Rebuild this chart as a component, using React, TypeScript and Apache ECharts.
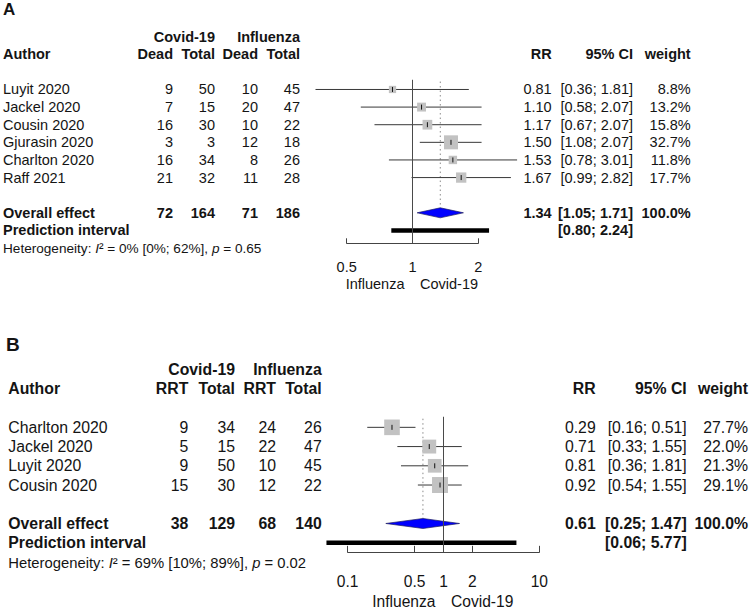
import React, { useEffect, useRef } from "react";
import * as echarts from "echarts";

// ---------- Panel A data ----------
const authorsA = ["Luyit 2020", "Jackel 2020", "Cousin 2020", "Gjurasin 2020", "Charlton 2020", "Raff 2021"];
const deadCovidA = [9, 7, 16, 3, 16, 21];
const totalCovidA = [50, 15, 30, 3, 34, 32];
const deadFluA = [10, 20, 10, 12, 8, 11];
const totalFluA = [45, 47, 22, 18, 26, 28];
const rrA = [0.81, 1.1, 1.17, 1.5, 1.53, 1.67];
const loA = [0.36, 0.58, 0.67, 1.08, 0.78, 0.99];
const hiA = [1.81, 2.07, 2.07, 2.07, 3.01, 2.82];
const weightA = [8.8, 13.2, 15.8, 32.7, 11.8, 17.7];
const sumsA = [72, 164, 71, 186];
const overallA = [1.34, 1.05, 1.71];
const predA = [0.8, 2.24];
const hetA = ["0%", "[0%; 62%]", "0.65"];
const ticksA = [0.5, 1, 2];
const headA = ["Dead", "Total", "Dead", "Total"];

// ---------- Panel B data ----------
const authorsB = ["Charlton 2020", "Jackel 2020", "Luyit 2020", "Cousin 2020"];
const rrtCovidB = [9, 5, 9, 15];
const totalCovidB = [34, 15, 50, 30];
const rrtFluB = [24, 22, 10, 12];
const totalFluB = [26, 47, 45, 22];
const rrB = [0.29, 0.71, 0.81, 0.92];
const loB = [0.16, 0.33, 0.36, 0.54];
const hiB = [0.51, 1.55, 1.81, 1.55];
const weightB = [27.7, 22.0, 21.3, 29.1];
const sumsB = [38, 129, 68, 140];
const overallB = [0.61, 0.25, 1.47];
const predB = [0.06, 5.77];
const hetB = ["69%", "[10%; 89%]", "0.02"];
const ticksB = [0.1, 0.5, 1, 2, 10];
const headB = ["RRT", "Total", "RRT", "Total"];

const groupHeads = ["Covid-19", "Influenza"];
const rightHeads = ["RR", "95% CI", "weight"];
const sideNames = ["Influenza", "Covid-19"];

const FONT = "'Liberation Sans', Arial, Helvetica, sans-serif";
const TXT = "#141414";

const f2 = (v: number) => v.toFixed(2);
const ci = (lo: number, hi: number) => `[${f2(lo)}; ${f2(hi)}]`;

function txt(x: number, y: number, text: string, o: any = {}) {
  return {
    type: "text",
    x,
    y,
    silent: true,
    style: {
      text,
      fill: TXT,
      fontFamily: FONT,
      fontSize: o.size,
      fontWeight: o.bold ? "bold" : "normal",
      align: o.align || "left",
      verticalAlign: "middle",
    },
  };
}

function buildPanel(L: any, D: any) {
  const n = D.authors.length;
  const rowY = (i: number) => L.top + (i - L.yMin) * L.spacing;
  const height = (L.yMax - L.yMin) * L.spacing;
  const g: any[] = [];
  const fs = L.fs;

  g.push(txt(L.letterX, L.letterY, L.letter, { size: L.letterSize, bold: true }));
  g.push(txt(L.cols[1], rowY(-3), groupHeads[0], { size: fs, bold: true, align: "right" }));
  g.push(txt(L.cols[3], rowY(-3), groupHeads[1], { size: fs, bold: true, align: "right" }));
  g.push(txt(L.authorX, rowY(-2), "Author", { size: fs, bold: true }));
  D.heads.forEach((h: string, k: number) =>
    g.push(txt(L.cols[k], rowY(-2), h, { size: fs, bold: true, align: "right" }))
  );
  rightHeads.forEach((h, k) => g.push(txt(L.rcols[k], rowY(-2), h, { size: fs, bold: true, align: "right" })));

  D.authors.forEach((a: string, i: number) => {
    const y = rowY(i);
    g.push(txt(L.authorX, y, a, { size: fs }));
    [D.c1[i], D.c2[i], D.c3[i], D.c4[i]].forEach((v: number, k: number) =>
      g.push(txt(L.cols[k], y, String(v), { size: fs, align: "right" }))
    );
    g.push(txt(L.rcols[0], y, f2(D.rr[i]), { size: fs, align: "right" }));
    g.push(txt(L.rcols[1], y, ci(D.lo[i], D.hi[i]), { size: fs, align: "right" }));
    g.push(txt(L.rcols[2], y, D.w[i].toFixed(1) + "%", { size: fs, align: "right" }));
  });

  const yo = rowY(n + 1);
  g.push(txt(L.authorX, yo, "Overall effect", { size: fs, bold: true }));
  D.sums.forEach((v: number, k: number) => g.push(txt(L.cols[k], yo, String(v), { size: fs, bold: true, align: "right" })));
  g.push(txt(L.rcols[0], yo, f2(D.overall[0]), { size: fs, bold: true, align: "right" }));
  g.push(txt(L.rcols[1], yo, ci(D.overall[1], D.overall[2]), { size: fs, bold: true, align: "right" }));
  g.push(txt(L.rcols[2], yo, "100.0%", { size: fs, bold: true, align: "right" }));
  const yp = rowY(n + 2);
  g.push(txt(L.authorX, yp, "Prediction interval", { size: fs, bold: true }));
  g.push(txt(L.rcols[1], yp, ci(D.pred[0], D.pred[1]), { size: fs, bold: true, align: "right" }));

  const hfs = L.hetFs;
  g.push({
    type: "text",
    x: L.authorX,
    y: rowY(L.hetRow),
    silent: true,
    style: {
      text: `{n|Heterogeneity: }{i|I}{n|² = ${D.het[0]} ${D.het[1]}, }{i|p}{n| = ${D.het[2]}}`,
      fill: TXT,
      fontFamily: FONT,
      fontSize: hfs,
      align: "left",
      verticalAlign: "middle",
      rich: {
        n: { fontSize: hfs, fontFamily: FONT, fill: TXT },
        i: { fontSize: hfs, fontFamily: FONT, fill: TXT, fontStyle: "italic" },
      },
    },
  });

  const x1 = L.left + L.width / 2;
  g.push(txt(x1 - 8, L.nameY, sideNames[0], { size: L.axisFs, align: "right" }));
  g.push(txt(x1 + 7.5, L.nameY, sideNames[1], { size: L.axisFs, align: "left" }));

  const idx = L.idx;
  const grid = {
    left: L.left,
    top: L.top,
    width: L.width,
    height,
    containLabel: false,
    outerBoundsMode: "none",
  };
  const xAxis = {
    gridIndex: idx,
    type: "log",
    logBase: L.logBase,
    min: L.min,
    max: L.max,
    axisLine: { show: true, onZero: false, lineStyle: { color: "#444", width: 1 } },
    axisTick: { show: true, inside: true, length: L.tickLen, lineStyle: { color: "#444", width: 1 }, customValues: D.ticks },
    axisLabel: {
      show: true,
      margin: L.labelMargin,
      fontSize: L.axisFs,
      fontFamily: FONT,
      color: TXT,
      customValues: D.ticks,
      formatter: (v: number) => String(Number(Number(v).toPrecision(6))),
    },
    minorTick: { show: false },
    splitLine: { show: false },
  };
  const yAxis = { gridIndex: idx, type: "value", inverse: true, min: L.yMin, max: L.yMax, show: false };

  const wMax = Math.max(...D.w);
  const studyData = D.rr.map((r: number, i: number) => [r, i, D.lo[i], D.hi[i], D.w[i]]);
  const base = { type: "custom", coordinateSystem: "cartesian2d", xAxisIndex: idx, yAxisIndex: idx, silent: true, clip: false };

  const series: any[] = [
    {
      ...base,
      z: 3,
      data: [[D.overall[0], -0.45, L.dotBottom]],
      renderItem: (_p: any, api: any) => {
        const a = api.coord([api.value(0), api.value(1)]);
        const b = api.coord([api.value(0), api.value(2)]);
        return {
          type: "line",
          shape: { x1: a[0], y1: a[1], x2: b[0], y2: b[1] },
          style: { stroke: "#8a8a8a", lineWidth: 1, lineDash: [1.5, 3] },
        };
      },
    },
    {
      ...base,
      z: 4,
      data: studyData,
      renderItem: (_p: any, api: any) => {
        const p = api.coord([api.value(0), api.value(1)]);
        const lo = api.coord([api.value(2), api.value(1)]);
        const hi = api.coord([api.value(3), api.value(1)]);
        const side = L.sq * Math.sqrt(api.value(4) / wMax);
        return {
          type: "group",
          children: [
            { type: "line", shape: { x1: lo[0], y1: p[1], x2: hi[0], y2: p[1] }, style: { stroke: "#383838", lineWidth: 1 } },
            { type: "rect", shape: { x: p[0] - side / 2, y: p[1] - side / 2, width: side, height: side }, style: { fill: "#c2c2c2" } },
            { type: "line", shape: { x1: p[0], y1: p[1] - 2.5, x2: p[0], y2: p[1] + 2.5 }, style: { stroke: "#111", lineWidth: 1 } },
          ],
        };
      },
    },
    {
      ...base,
      z: 4,
      data: [[D.overall[0], n + 1, D.overall[1], D.overall[2]]],
      renderItem: (_p: any, api: any) => {
        const p = api.coord([api.value(0), api.value(1)]);
        const lo = api.coord([api.value(2), api.value(1)]);
        const hi = api.coord([api.value(3), api.value(1)]);
        return {
          type: "polygon",
          shape: { points: [[lo[0], p[1]], [p[0], p[1] - 5], [hi[0], p[1]], [p[0], p[1] + 5]] },
          style: { fill: "#0000ff", stroke: "#202060", lineWidth: 0.7 },
        };
      },
    },
    {
      ...base,
      z: 4,
      data: [[D.pred[0], n + 2, D.pred[1]]],
      renderItem: (_p: any, api: any) => {
        const a = api.coord([api.value(0), api.value(1)]);
        const b = api.coord([api.value(2), api.value(1)]);
        return { type: "line", shape: { x1: a[0], y1: a[1], x2: b[0], y2: b[1] }, style: { stroke: "#000", lineWidth: 4.5 } };
      },
    },
    {
      ...base,
      z: 5,
      data: [[1, -0.55, L.yMax]],
      renderItem: (_p: any, api: any) => {
        const a = api.coord([api.value(0), api.value(1)]);
        const b = api.coord([api.value(0), api.value(2)]);
        return { type: "line", shape: { x1: a[0], y1: a[1], x2: b[0], y2: b[1] }, style: { stroke: "#4a4a4a", lineWidth: 1 } };
      },
    },
  ];
  return { grid, xAxis, yAxis, series, graphic: g };
}

const layoutA = {
  idx: 0, letter: "A", letterX: 3, letterY: 9, letterSize: 17, fs: 14.5, hetFs: 13.6, axisFs: 14.5,
  left: 346.7, width: 131.6, top: 78.9, yMin: -0.6, yMax: 8.73, spacing: 17.62,
  logBase: 2, min: 0.5, max: 2, authorX: 3, cols: [173, 215, 258, 300], rcols: [551.7, 633, 690.7],
  sq: 14, tickLen: 5, labelMargin: 16, nameY: 284, hetRow: 9, dotBottom: 6.67,
};
const layoutB = {
  idx: 1, letter: "B", letterX: 6, letterY: 344, letterSize: 19, fs: 15.8, hetFs: 14.8, axisFs: 15.6,
  left: 347.7, width: 191.6, top: 415.8, yMin: -0.6, yMax: 6.5, spacing: 19.23,
  logBase: 10, min: 0.1, max: 10, authorX: 8.3, cols: [188.3, 235, 276, 321.7], rcols: [595.7, 686.7, 748],
  sq: 16, tickLen: 6.5, labelMargin: 21.5, nameY: 601.7, hetRow: 7.07, dotBottom: 4.73,
};

export default function App() {
  const ref = useRef<HTMLDivElement>(null);
  useEffect(() => {
    if (!ref.current) return;
    const chart = echarts.init(ref.current, undefined, { renderer: "svg" });
    const pA = buildPanel(layoutA, {
      authors: authorsA, c1: deadCovidA, c2: totalCovidA, c3: deadFluA, c4: totalFluA,
      rr: rrA, lo: loA, hi: hiA, w: weightA, sums: sumsA, overall: overallA, pred: predA,
      het: hetA, ticks: ticksA, heads: headA,
    });
    const pB = buildPanel(layoutB, {
      authors: authorsB, c1: rrtCovidB, c2: totalCovidB, c3: rrtFluB, c4: totalFluB,
      rr: rrB, lo: loB, hi: hiB, w: weightB, sums: sumsB, overall: overallB, pred: predB,
      het: hetB, ticks: ticksB, heads: headB,
    });
    chart.setOption({
      animation: false,
      backgroundColor: "#ffffff",
      grid: [pA.grid, pB.grid],
      xAxis: [pA.xAxis, pB.xAxis],
      yAxis: [pA.yAxis, pB.yAxis],
      series: [...pA.series, ...pB.series],
      graphic: [...pA.graphic, ...pB.graphic],
    });
    return () => chart.dispose();
  }, []);
  return <div ref={ref} style={{ position: "fixed", left: 0, top: 0, width: 750, height: 609 }} />;
}
